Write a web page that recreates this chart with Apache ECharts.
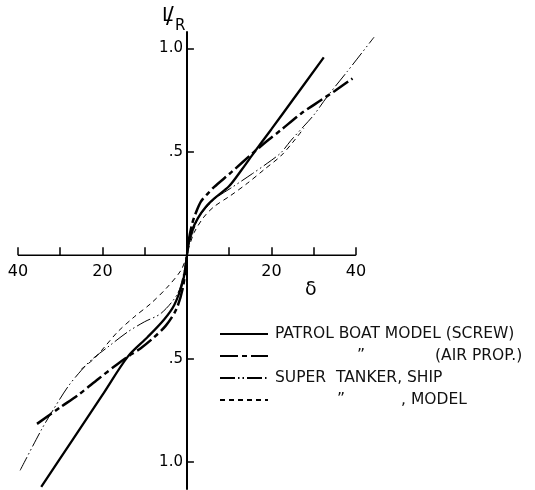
<!DOCTYPE html>
<html><head><meta charset="utf-8">
<script src="https://cdn.jsdelivr.net/npm/echarts@6/dist/echarts.min.js"></script>
<style>html,body{margin:0;padding:0;background:#fff}#c{width:535px;height:490px}</style>
</head><body><div id="c"></div>
<script>
// Axis ticks / labels
const xAxisSpan = [-40, 40];
const xTickValues = [-40, -30, -20, -10, 10, 20, 30, 40];
const xLabelValues = [-40, -20, 20, 40];
const yTickValues = [-1, -0.5, 0.5, 1];

// Patrol boat model (screw) — solid
const screwDelta = [-34.5, -27, -20, -14, -9.3, -5.4, -3, -1, -0.3, 0, 0.4, 1.2, 2.6, 4.5, 6.5, 10, 13, 16, 20, 25, 32.4];
const screwLR    = [-1.12, -0.89, -0.675, -0.49, -0.395, -0.31, -0.24, -0.13, -0.05, 0, 0.06, 0.12, 0.18, 0.235, 0.275, 0.335, 0.415, 0.5, 0.61, 0.75, 0.957];

// Patrol boat model (air prop) — heavy dash
const airDelta = [-35.5, -30, -25.8, -21, -16.4, -14, -11, -8, -5, -2.5, -1, -0.3, 0, 0.4, 1.2, 2, 3.3, 5, 6.4, 10.4, 15.9, 19.4, 22.2, 27, 31.7, 35, 39.2];
const airLR    = [-0.815, -0.735, -0.676, -0.598, -0.525, -0.49, -0.45, -0.4, -0.34, -0.26, -0.16, -0.06, 0, 0.07, 0.15, 0.2, 0.26, 0.3, 0.33, 0.4, 0.5, 0.56, 0.605, 0.685, 0.75, 0.795, 0.855];

// Super tanker, ship — thin dash-dot-dot
const shipDelta = [-39.5, -34.5, -32.2, -28.2, -25, -22.7, -18.7, -14, -10.1, -6.1, -2.2, -0.7, 0, 0.5, 1.5, 3, 5, 7, 10.4, 15.5, 19, 22.2, 24.6, 27.7, 30.1, 33.3, 38, 44.3];
const shipLR    = [-1.04, -0.845, -0.765, -0.636, -0.556, -0.507, -0.443, -0.37, -0.322, -0.28, -0.185, -0.08, 0, 0.05, 0.12, 0.19, 0.24, 0.28, 0.325, 0.395, 0.445, 0.495, 0.555, 0.625, 0.68, 0.77, 0.89, 1.055];

// Super tanker, model — thin dashed
const modelDelta = [-25, -22, -19.5, -16.4, -12.5, -8.5, -4.6, -1.4, 0, 0.5, 1.7, 4, 6.4, 10.4, 14.4, 18.3, 22.2, 25, 27.7];
const modelLR    = [-0.55, -0.5, -0.443, -0.37, -0.298, -0.232, -0.153, -0.072, 0, 0.04, 0.11, 0.185, 0.235, 0.29, 0.35, 0.415, 0.48, 0.545, 0.615];

const zip = (a, b) => a.map((v, i) => [v, b[i]]);
const FONT = 'DejaVu Sans';

const chart = echarts.init(document.getElementById('c'), null, {renderer: 'canvas'});
const base = {type: 'line', symbol: 'none', smooth: 0.3, clip: false, silent: true, animation: false, itemStyle: {color: '#000'}};

const option = {
  backgroundColor: '#fff',
  animation: false,
  grid: {left: 18, right: 158, top: 32, bottom: 1, containLabel: false, outerBoundsMode: 'none'},
  xAxis: {
    type: 'value', min: -40, max: 45, position: 'bottom', offset: 0,
    axisLine: {show: false, onZero: false},
    axisTick: {show: true, inside: true, length: 8, customValues: xTickValues, lineStyle: {color: '#000', width: 1.5}},
    axisLabel: {show: true, customValues: xLabelValues, margin: 9, color: '#000', fontFamily: FONT, fontSize: 16,
      formatter: v => String(Math.abs(v))},
    splitLine: {show: false}
  },
  yAxis: {
    type: 'value', min: -1.13, max: 1.08, position: 'left', offset: 0,
    axisLine: {onZero: false, lineStyle: {color: '#000', width: 2}},
    axisTick: {show: true, inside: true, length: 7, customValues: yTickValues, lineStyle: {color: '#000', width: 1.5}},
    axisLabel: {show: true, customValues: yTickValues, margin: 4, color: '#000', fontFamily: FONT, fontSize: 15,
      formatter: v => { const a = Math.abs(v); return a === 1 ? '1.0' : String(a).replace(/^0/, ''); }},
    splitLine: {show: false}
  },
  legend: {
    orient: 'vertical', left: 214, top: 321, itemWidth: 48, itemHeight: 14, itemGap: 6,
    selectedMode: false,
    itemStyle: {opacity: 0},
    data: ['screw', 'air', 'ship', 'model'],
    textStyle: {fontFamily: FONT, fontSize: 15.5, color: '#111', lineHeight: 16, padding: [0, 0, 0, 2],
      rich: {s1: {width: 82}, s2: {width: 70}, s3: {width: 62}, s4: {width: 56}}},
    formatter: name => ({
      screw: 'PATROL BOAT MODEL (SCREW)',
      air: '{s1| }\u201D{s2| }(AIR PROP.)',
      ship: 'SUPER  TANKER, SHIP',
      model: '{s3| }\u201D{s4| }, MODEL'
    })[name]
  },
  graphic: [
    {type: 'text', left: 162, top: 7, style: {text: 'L', fontFamily: FONT, fontSize: 19, fill: '#000'}},
    {type: 'text', left: 166, top: 6, style: {text: '/', fontFamily: FONT, fontSize: 23, fill: '#000'}},
    {type: 'text', left: 175, top: 19, style: {text: 'R', fontFamily: FONT, fontSize: 15, fill: '#000'}},
    {type: 'text', left: 305, top: 281, style: {text: '\u03B4', fontFamily: FONT, fontSize: 19, fill: '#000'}}
  ],
  series: [
    // horizontal δ axis line (from -40 to 40 only)
    {type: 'line', name: 'axis', data: xAxisSpan.map(v => [v, 0]), symbol: 'none', silent: true, animation: false,
      lineStyle: {color: '#000', width: 1.5}, z: 1},
    Object.assign({}, base, {name: 'screw', data: zip(screwDelta, screwLR), lineStyle: {color: '#000', width: 2.3}}),
    Object.assign({}, base, {name: 'air', data: zip(airDelta, airLR), lineStyle: {color: '#000', width: 2.5, type: [18, 4, 5, 4]}}),
    Object.assign({}, base, {name: 'ship', data: zip(shipDelta, shipLR), lineStyle: {color: '#000', width: 1, type: [15, 3, 1.5, 3, 1.5, 3]}}),
    Object.assign({}, base, {name: 'model', data: zip(modelDelta, modelLR), lineStyle: {color: '#000', width: 1, type: [5, 4]}})
  ]
};
chart.setOption(option);

// Move both axes so they cross at the data origin (0, 0)
const origin = chart.convertToPixel({gridIndex: 0}, [0, 0]);
const gridRect = chart.getModel().getComponent('grid', 0).coordinateSystem.getRect();
chart.setOption({
  xAxis: {offset: origin[1] - (gridRect.y + gridRect.height)},
  yAxis: {offset: gridRect.x - origin[0]}
});
</script>
</body></html>
